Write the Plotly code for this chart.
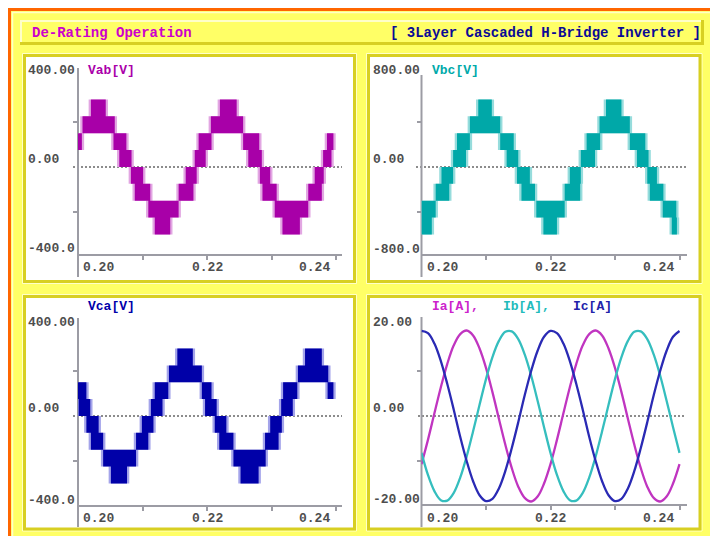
import plotly.graph_objects as go

# target picture size and the page's default 8px body margin
W, H = 718, 536
OFF = 8
FW, FH = W - OFF, H - OFF

# ---------------- data (time in ms, displayed as seconds) ----------------
x_tick_ms = [200, 220, 240]
x_tick_text = ["0.20", "0.22", "0.24"]
x_minor_ms = [210, 220, 230, 240]

# PWM line voltage bands: waveform switches between lo and hi during [t0, t1]
vab_t0 = [199.9, 200.7, 202.0, 205.5, 206.4, 208.2, 208.8, 210.9, 211.9, 215.6, 216.7, 218.1, 218.7,
          220.6, 222.0, 225.6, 226.4, 228.2, 228.6, 230.5, 231.7, 235.7, 236.7, 238.0, 238.6]
vab_t1 = [200.6, 205.7, 204.3, 207.5, 208.3, 210.1, 211.2, 215.6, 214.3, 217.9, 218.4, 219.8, 220.7,
          225.6, 224.6, 228.1, 228.5, 229.8, 230.8, 235.7, 234.4, 237.8, 238.1, 239.3, 239.6]
vab_lo = [75, 150, 225, 75, 0, -75, -150, -225, -300, -150, -75, 0, 75,
          150, 225, 75, 0, -75, -150, -225, -300, -150, -75, 0, 75]
vab_hi = [150, 225, 300, 150, 75, 0, -75, -150, -225, -75, 0, 75, 150,
          225, 300, 150, 75, 0, -75, -150, -225, -75, 0, 75, 150]

vbc_t0 = [200.0, 200.0, 202.2, 203.1, 204.9, 205.5, 207.5, 208.8, 212.2, 213.2, 214.8, 215.5, 217.8,
          218.9, 222.2, 223.0, 224.7, 225.6, 227.6, 228.6, 232.3, 233.4, 235.0, 235.4, 237.4, 238.8]
vbc_t1 = [202.2, 201.6, 204.3, 204.9, 206.9, 207.5, 212.2, 210.9, 214.3, 215.0, 216.8, 217.6, 222.2,
          221.0, 224.6, 224.7, 226.9, 227.7, 232.3, 231.0, 234.7, 235.2, 236.5, 237.5, 239.5, 239.6]
vbc_lo = [-450, -600, -300, -150, 0, 150, 300, 450, 150, 0, -150, -300, -450,
          -600, -300, -150, 0, 150, 300, 450, 150, 0, -150, -300, -450, -600]
vbc_hi = [-300, -450, -150, 0, 150, 300, 450, 600, 300, 150, 0, -150, -300,
          -450, -150, 0, 150, 300, 450, 600, 300, 150, 0, -150, -300, -450]

vca_t0 = [199.9, 200.1, 201.3, 202.0, 203.9, 205.1, 209.0, 209.9, 211.3, 211.9, 214.1, 215.4, 219.2,
          219.7, 221.2, 221.9, 224.1, 225.2, 229.0, 229.8, 231.5, 231.8, 234.1, 235.2, 238.7]
vca_t1 = [201.3, 201.9, 203.2, 203.9, 209.0, 207.6, 210.9, 211.7, 213.1, 214.0, 219.2, 217.8, 220.7,
          221.5, 223.0, 224.1, 229.1, 228.0, 231.1, 231.6, 233.3, 234.0, 238.8, 237.8, 239.6]
vca_lo = [75, 0, -75, -150, -225, -300, -150, -75, 0, 75, 150, 225, 75,
          0, -75, -150, -225, -300, -150, -75, 0, 75, 150, 225, 75]
vca_hi = [150, 75, 0, -75, -150, -225, -75, 0, 75, 150, 225, 300, 150,
          75, 0, -75, -150, -225, -75, 0, 75, 150, 225, 300, 150]

# phase currents sampled every 1 ms
t_ms = [200, 201, 202, 203, 204, 205, 206, 207, 208, 209, 210, 211, 212, 213, 214, 215, 216, 217, 218, 219,
        220, 221, 222, 223, 224, 225, 226, 227, 228, 229, 230, 231, 232, 233, 234, 235, 236, 237, 238, 239, 240]
ia = [-10.7, -5.3, 0.6, 6.4, 11.6, 15.7, 18.2, 19.0, 17.9, 15.0, 10.7, 5.3, -0.6, -6.4, -11.6, -15.7, -18.2, -19.0, -17.9, -15.0,
      -10.7, -5.3, 0.6, 6.4, 11.6, 15.7, 18.2, 19.0, 17.9, 15.0, 10.7, 5.3, -0.6, -6.4, -11.6, -15.7, -18.2, -19.0, -17.9, -15.0,
      -10.7]
ib = [-8.2, -13.1, -16.7, -18.7, -18.8, -17.1, -13.7, -9.0, -3.4, 2.5, 8.2, 13.1, 16.7, 18.7, 18.8, 17.1, 13.7, 9.0, 3.4, -2.5,
      -8.2, -13.1, -16.7, -18.7, -18.8, -17.1, -13.7, -9.0, -3.4, 2.5, 8.2, 13.1, 16.7, 18.7, 18.8, 17.1, 13.7, 9.0, 3.4, -2.5,
      -8.2]
ic = [18.9, 18.4, 16.1, 12.2, 7.1, 1.4, -4.6, -10.0, -14.5, -17.6, -18.9, -18.4, -16.1, -12.2, -7.1, -1.4, 4.6, 10.0, 14.5, 17.6,
      18.9, 18.4, 16.1, 12.2, 7.1, 1.4, -4.6, -10.0, -14.5, -17.6, -18.9, -18.4, -16.1, -12.2, -7.1, -1.4, 4.6, 10.0, 14.5, 17.6,
      18.9]

# ---------------- styling ----------------
FONT = "Liberation Mono, DejaVu Sans Mono, monospace"
AX = "#9C9CA4"
YEL = "#FFFF66"
DYEL = "#D8CF22"
LYEL = "#FFFFC8"
ORANGE = "#FF6600"
LBL = "#4E4E4E"


def fx(p):
    return (p - OFF) / FW


def fy(p):
    return 1 - (p - OFF) / FH


fig = go.Figure()

# subplot specs: x-domain px, y-domain px, zero-line py, units per px, y tick values
specs = [
    ("x", "y", (78, 342), (68, 254), 167, 400 / 90, [-200, 200]),
    ("x2", "y2", (421.5, 687), (75, 254), 167, 800 / 90, [-400, 400]),
    ("x3", "y3", (78, 342), (318, 505), 416, 400 / 90, [-200, 200]),
    ("x4", "y4", (421.5, 687), (317, 504), 416, 10 / 45, [-10, 10]),
]
axes = {}
for xa, ya, (xl, xr), (yt, yb), zero, upp, ytv in specs:
    axes["xaxis" + xa[1:]] = dict(domain=[fx(xl), fx(xr)], range=[200, 200 + (xr - xl) / 6.45], anchor=ya,
                                  showgrid=False, zeroline=False, showline=True, linecolor=AX, linewidth=2,
                                  ticks="outside", tickvals=x_minor_ms, ticklen=4, tickwidth=2, tickcolor=AX,
                                  showticklabels=False, fixedrange=True)
    axes["yaxis" + ya[1:]] = dict(domain=[fy(yb), fy(yt)], range=[-(yb - zero) * upp, (zero - yt) * upp],
                                  anchor=xa, showgrid=False, zeroline=False, showline=False,
                                  ticks="outside", tickvals=ytv, ticklen=4, tickwidth=2, tickcolor=AX,
                                  showticklabels=False, fixedrange=True)


def band_xy(t0, t1, lo, hi, pad=0.0):
    xs, ys = [], []
    for a, b, l, h in zip(t0, t1, lo, hi):
        xs += [a - pad, b + pad, b + pad, a - pad, a - pad, None]
        ys += [l, l, h, h, l, None]
    return xs, ys


def add_bands(t0, t1, lo, hi, dark, light, xa, ya):
    for pad, col in ((0.35, light), (0.0, dark)):
        xs, ys = band_xy(t0, t1, lo, hi, pad)
        fig.add_trace(go.Scatter(x=xs, y=ys, mode="lines", fill="toself", fillcolor=col,
                                 line=dict(width=0, color=col), hoverinfo="skip", showlegend=False,
                                 xaxis=xa, yaxis=ya))


add_bands(vab_t0, vab_t1, vab_lo, vab_hi, "#A800A8", "#E2A6E2", "x", "y")
add_bands(vbc_t0, vbc_t1, vbc_lo, vbc_hi, "#00A8A8", "#96DCDC", "x2", "y2")
add_bands(vca_t0, vca_t1, vca_lo, vca_hi, "#0000A8", "#A4A4EA", "x3", "y3")

for vals, col in ((ia, "#C035C0"), (ib, "#35BEBE"), (ic, "#2A2AB4")):
    fig.add_trace(go.Scatter(x=t_ms, y=vals, mode="lines", line=dict(color=col, width=2.3, shape="spline"),
                             hoverinfo="skip", showlegend=False, xaxis="x4", yaxis="y4"))

# ---------------- frames ----------------
shapes = []


def prect(x0, y0, x1, y1, fill=None, lc=None, lw=0, layer="below"):
    shapes.append(dict(type="rect", xref="paper", yref="paper", x0=fx(x0), x1=fx(x1), y0=fy(y1), y1=fy(y0),
                       fillcolor=fill if fill else "rgba(0,0,0,0)",
                       line=dict(color=lc if lc else "rgba(0,0,0,0)", width=lw), layer=layer))


def pline(x0, y0, x1, y1, col, lw, dash="solid", yref="paper", layer="below"):
    shapes.append(dict(type="line", xref="paper", yref=yref, x0=fx(x0), x1=fx(x1),
                       y0=fy(y0) if yref == "paper" else y0, y1=fy(y1) if yref == "paper" else y1,
                       line=dict(color=col, width=lw, dash=dash), layer=layer))


prect(9, 9, 715.5, 548, fill=YEL, lc=ORANGE, lw=4)
pline(12, 12.5, 713, 12.5, LYEL, 1.5)
pline(12.5, 12, 12.5, 536, LYEL, 1.5)
# title box
pline(20, 21, 703, 21, LYEL, 2)
pline(21, 20, 21, 44, LYEL, 2)
pline(20, 43.5, 704, 43.5, DYEL, 3)
pline(702.5, 20, 702.5, 45, DYEL, 3)
# panels
for (x0, y0, x1, y1) in ((24.5, 55.5, 354.5, 281.5), (368.5, 55.5, 700, 281.5),
                         (24.5, 296.5, 354.5, 529), (368.5, 296.5, 700, 529)):
    prect(x0 - 2, y0 - 2, x1 + 2, y1 + 2, lc=LYEL, lw=1)
    prect(x0, y0, x1, y1, fill="white", lc=DYEL, lw=3)

# zero dotted lines
pline(73, 0, 342, 0, "#8C8C8C", 2, dash="2px,2px", yref="y")
pline(416, 0, 687, 0, "#8C8C8C", 2, dash="2px,2px", yref="y2")
pline(73, 0, 342, 0, "#8C8C8C", 2, dash="2px,2px", yref="y3")
pline(418, 0, 685, 0, "#8C8C8C", 2, dash="2px,2px", yref="y4")
# y axis lines (extend below x axis)
pline(78, 68, 78, 277, AX, 2)
pline(421.5, 75, 421.5, 277, AX, 2)
pline(78, 318, 78, 527, AX, 2)
pline(421.5, 317, 421.5, 527, AX, 2)

# ---------------- text ----------------
ann = []


def note(text, x, y, color, size=13, xanchor="left", xref="paper", xshift=0):
    ann.append(dict(text="<b>" + text + "</b>", x=fx(x) if xref == "paper" else x, y=fy(y), xref=xref,
                    yref="paper", xanchor=xanchor, yanchor="middle", showarrow=False, xshift=xshift,
                    font=dict(family=FONT, size=size, color=color)))


note("De-Rating Operation", 30, 33, "#CC00CC", size=14)
note("[ 3Layer Cascaded H-Bridge Inverter ]", 703, 33, "#0A0A96", size=14, xanchor="right")

note("Vab[V]", 86, 70, "#AA00AA")
note("Vbc[V]", 430, 70, "#00AAAA")
note("Vca[V]", 86, 306, "#0000AA")
note("Ia[A],", 430, 306, "#CC22CC")
note("Ib[A],", 501, 306, "#22BBBB")
note("Ic[A]", 571, 306, "#2222AA")

ylabels = [
    (26, [(70, "400.00"), (160, "0.00"), (248, "-400.0")]),
    (371, [(70, "800.00"), (160, "0.00"), (249, "-800.0")]),
    (26, [(322, "400.00"), (408, "0.00"), (500, "-400.0")]),
    (371, [(322, "20.00"), (408, "0.00"), (499, "-20.00")]),
]
for xl, items in ylabels:
    for yy, txt in items:
        note(txt, xl, yy, LBL)

for xa, yy in (("x", 267), ("x2", 267), ("x3", 518), ("x4", 518)):
    for tv, txt, anc, sh in zip(x_tick_ms, x_tick_text, ["left", "center", "right"], [3, 0, -4]):
        note(txt, tv, yy, LBL, xanchor=anc, xref=xa, xshift=sh)

fig.update_layout(width=FW, height=FH, margin=dict(l=0, r=0, t=0, b=0), paper_bgcolor="white",
                  plot_bgcolor="rgba(0,0,0,0)", shapes=shapes, annotations=ann, showlegend=False, **axes)

fig.write_html("out.html")
